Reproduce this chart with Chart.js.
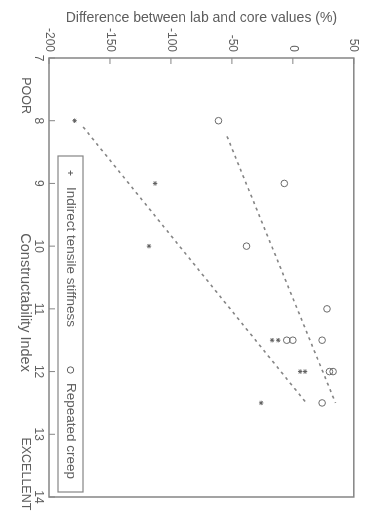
<!DOCTYPE html>
<html>
<head>
<meta charset="utf-8">
<script src="https://cdn.jsdelivr.net/npm/chart.js@4"></script>
<style>
  html, body { margin: 0; padding: 0; background: #fff; overflow: hidden; }
  /* the scanned figure is printed sideways, so the landscape chart is turned 90deg */
  #wrap {
    position: absolute; left: 0; top: 0;
    width: 512px; height: 367px;
    transform-origin: 0 0;
    transform: translate(367px, 0) rotate(90deg);
  }
</style>
</head>
<body>
<div id="wrap"><canvas id="diffChart" width="512" height="367"></canvas></div>
<script>
'use strict'

// values
var ciTicks = [7, 8, 9, 10, 11, 12, 13, 14];
var diffTicks = [-200, -150, -100, -50, 0, 50];

var stiffnessCI = [8, 9, 10, 11.5, 11.5, 12, 12, 12.5];
var stiffnessDiff = [-179, -113, -118, -17, -12, 6, 10, -26];

var creepCI = [8, 9, 10, 11, 11.5, 11.5, 11.5, 12, 12, 12.5];
var creepDiff = [-61, -7, -38, 28, -5, 0, 24, 30, 33, 24];

// dashed trend lines, end points only
var stiffnessFitCI = [8.1, 12.5];
var stiffnessFitDiff = [-172, 11];
var creepFitCI = [8.25, 12.5];
var creepFitDiff = [-54, 35];

var seriesNames = ['Indirect tensile stiffness', 'Repeated creep'];
var xTitle = 'Constructability Index';
var yTitle = 'Difference between lab and core values (%)';
var endNames = ['POOR', 'EXCELLENT'];

var ink = '#5e5e5e';
var lineInk = '#858585';
var fontName = '"Liberation Sans", Arial, sans-serif';

function toPoints(xs, ys) {
  return xs.map(function (x, i) { return {x: x, y: ys[i]}; });
}

function fixedTicks(list) {
  return function (scale) {
    scale.ticks = list.map(function (v) { return {value: v}; });
  };
}

// box, inward ticks, the framed legend and the text under the x axis
var framePlugin = {
  id: 'frame',
  afterDraw: function (chart) {
    var ctx = chart.ctx;
    var a = chart.chartArea;
    var xs = chart.scales.x;
    var ys = chart.scales.y;
    ctx.save();

    ctx.strokeStyle = lineInk;
    ctx.lineWidth = 1.5;
    ctx.strokeRect(a.left, a.top, a.right - a.left, a.bottom - a.top);

    ctx.lineWidth = 1;
    ctx.beginPath();
    ciTicks.forEach(function (v) {
      var px = xs.getPixelForValue(v);
      ctx.moveTo(px, a.bottom);
      ctx.lineTo(px, a.bottom - 6);
    });
    diffTicks.forEach(function (v) {
      var py = ys.getPixelForValue(v);
      ctx.moveTo(a.left, py);
      ctx.lineTo(a.left + 6, py);
    });
    ctx.stroke();

    // legend
    var lx = a.left + 98, rx = a.right - 5;
    var ty = a.bottom - 34, by = a.bottom - 9;
    var my = (ty + by) / 2;
    ctx.lineWidth = 1.2;
    ctx.strokeRect(lx, ty, rx - lx, by - ty);

    ctx.fillStyle = ink;
    ctx.strokeStyle = ink;
    ctx.lineWidth = 1;
    ctx.beginPath();
    var sx = lx + 17;
    ctx.moveTo(sx - 2.5, my); ctx.lineTo(sx + 2.5, my);
    ctx.moveTo(sx, my - 2.5); ctx.lineTo(sx, my + 2.5);
    ctx.stroke();
    ctx.beginPath();
    ctx.arc(lx + 214, my, 3.2, 0, Math.PI * 2);
    ctx.stroke();

    ctx.font = '13.5px ' + fontName;
    ctx.textBaseline = 'middle';
    ctx.textAlign = 'left';
    ctx.fillText(seriesNames[0], lx + 31, my);
    ctx.fillText(seriesNames[1], lx + 227, my);

    // axis name and the two end words
    var rowY = a.bottom + 24;
    ctx.textAlign = 'center';
    ctx.font = '14.5px ' + fontName;
    ctx.fillText(xTitle, xs.getPixelForValue(10.9), rowY);
    ctx.font = '12.5px ' + fontName;
    ctx.fillText(endNames[0], xs.getPixelForValue(7.6), rowY);
    ctx.textAlign = 'left';
    ctx.fillText(endNames[1], xs.getPixelForValue(13.05), rowY);

    ctx.restore();
  }
};

function renderChart() {
  var ctx = document.getElementById('diffChart').getContext('2d');
  var chart = new Chart(ctx, {
    type: 'scatter',
    data: {
      datasets: [{
        label: seriesNames[0],
        data: toPoints(stiffnessCI, stiffnessDiff),
        pointStyle: 'star',
        radius: 2.2,
        borderWidth: 1,
        borderColor: ink,
        backgroundColor: ink
      }, {
        label: seriesNames[1],
        data: toPoints(creepCI, creepDiff),
        pointStyle: 'circle',
        radius: 3.3,
        borderWidth: 1,
        borderColor: '#6a6a6a',
        backgroundColor: 'rgba(0,0,0,0)'
      }, {
        type: 'line',
        label: 'stiffness fit',
        data: toPoints(stiffnessFitCI, stiffnessFitDiff),
        borderColor: lineInk,
        borderWidth: 1.6,
        borderDash: [3, 4],
        pointRadius: 0,
        fill: false
      }, {
        type: 'line',
        label: 'creep fit',
        data: toPoints(creepFitCI, creepFitDiff),
        borderColor: lineInk,
        borderWidth: 1.6,
        borderDash: [3, 4],
        pointRadius: 0,
        fill: false
      }]
    },
    options: {
      responsive: false,
      animation: false,
      devicePixelRatio: 1,
      layout: {padding: {top: 7, right: 15, left: 0, bottom: 0}},
      plugins: {
        legend: {display: false},
        tooltip: {enabled: false}
      },
      scales: {
        x: {
          type: 'linear',
          position: 'bottom',
          min: 7,
          max: 14,
          afterBuildTicks: fixedTicks(ciTicks),
          afterFit: function (s) { s.height = 49; },
          grid: {drawOnChartArea: false, drawTicks: false},
          border: {display: false},
          ticks: {
            color: ink,
            padding: 3,
            maxRotation: 0,
            font: {family: fontName, size: 12}
          }
        },
        y: {
          type: 'linear',
          position: 'left',
          min: -200,
          max: 50,
          afterBuildTicks: fixedTicks(diffTicks),
          afterFit: function (s) { s.width = 58; },
          grid: {drawOnChartArea: false, drawTicks: false},
          border: {display: false},
          ticks: {
            color: ink,
            padding: 6,
            font: {family: fontName, size: 12}
          },
          title: {
            display: true,
            text: yTitle,
            color: ink,
            padding: {top: 10, bottom: 0},
            font: {family: fontName, size: 14}
          }
        }
      }
    },
    plugins: [framePlugin]
  });
  return chart;
}

renderChart();
</script>
</body>
</html>
